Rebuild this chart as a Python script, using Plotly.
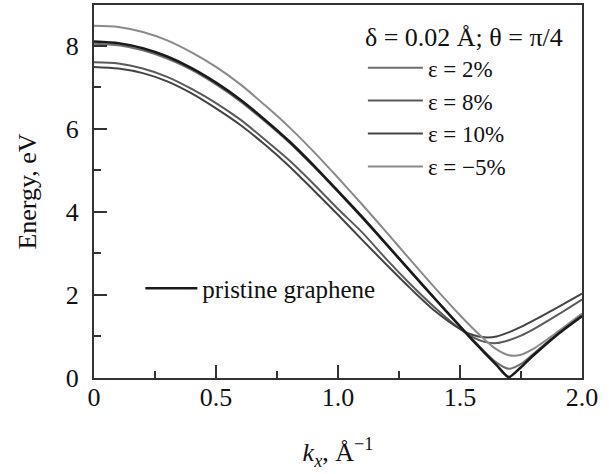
import plotly.graph_objects as go

# wave vector grid (Å^-1)
k = [0.0, 0.1, 0.2, 0.3, 0.4, 0.5, 0.6, 0.7, 0.8, 0.9, 1.0, 1.1, 1.2, 1.3, 1.4,
     1.5, 1.55, 1.6, 1.65, 1.7, 1.75, 1.8, 1.9, 2.0]

# energies (eV)
e_pristine = [8.10, 8.06, 7.94, 7.74, 7.46, 7.11, 6.70, 6.22, 5.70, 5.12, 4.50, 3.87,
              3.21, 2.55, 1.89, 1.24, 0.92, 0.61, 0.31, 0.02, 0.26, 0.54, 1.05, 1.49]
e_eps2 = [8.05, 8.01, 7.89, 7.69, 7.42, 7.07, 6.66, 6.18, 5.67, 5.09, 4.48, 3.85,
          3.20, 2.54, 1.89, 1.25, 0.94, 0.64, 0.37, 0.22, 0.34, 0.58, 1.07, 1.51]
e_eps8 = [7.60, 7.57, 7.45, 7.25, 6.96, 6.62, 6.22, 5.74, 5.24, 4.67, 4.07, 3.50,
          2.85, 2.24, 1.68, 1.18, 0.99, 0.87, 0.84, 0.91, 1.02, 1.17, 1.52, 1.89]
e_eps10 = [7.49, 7.45, 7.34, 7.14, 6.85, 6.49, 6.09, 5.62, 5.10, 4.52, 3.93, 3.32,
           2.72, 2.14, 1.60, 1.18, 1.04, 0.98, 1.00, 1.10, 1.23, 1.38, 1.70, 2.03]
e_epsm5 = [8.48, 8.45, 8.33, 8.13, 7.84, 7.49, 7.07, 6.57, 6.04, 5.45, 4.82, 4.17,
           3.50, 2.82, 2.15, 1.51, 1.21, 0.93, 0.69, 0.55, 0.56, 0.70, 1.11, 1.55]

series = [
    ("ε = 2%", e_eps2, "#6e6e6e"),
    ("ε = 8%", e_eps8, "#5a5a5a"),
    ("ε = 10%", e_eps10, "#444444"),
    ("ε = −5%", e_epsm5, "#8a8a8a"),
]

FONT = "Liberation Serif, Times New Roman, serif"

fig = go.Figure()
for name, vals, col in series:
    fig.add_trace(go.Scatter(x=k, y=vals, mode="lines", name=name,
                             line=dict(color=col, width=2, shape="spline", smoothing=0.8),
                             legend="legend"))
fig.add_trace(go.Scatter(x=k, y=e_pristine, mode="lines", name="pristine graphene",
                         line=dict(color="#1a1a1a", width=2.6, shape="spline", smoothing=0.6),
                         legend="legend2"))

axis_common = dict(showgrid=False, zeroline=False, showline=True, mirror=True,
                   linecolor="#333333", linewidth=2, ticks="inside", tickcolor="#333333",
                   tickwidth=1.5, ticklen=13,
                   tickfont=dict(family=FONT, size=26, color="#111111"))

fig.update_layout(
    width=609, height=474,
    margin=dict(l=94, r=27, t=3, b=96),
    paper_bgcolor="white", plot_bgcolor="white",
    font=dict(family=FONT, size=25, color="#111111"),
    xaxis=dict(range=[0, 2.0], tickvals=[0, 0.5, 1.0, 1.5, 2.0],
               ticktext=["0", "0.5", "1.0", "1.5", "2.0"],
               minor=dict(tickvals=[0.25, 0.75, 1.25, 1.75], ticks="inside", ticklen=7,
                          tickcolor="#333333", tickwidth=1.5),
               title=dict(text="<i>k<sub>x</sub></i>, Å<sup>−1</sup>",
                          font=dict(family=FONT, size=26), standoff=32),
               ticklabelstandoff=-5,
               **axis_common),
    yaxis=dict(range=[0, 8.98], tickvals=[0, 2, 4, 6, 8],
               minor=dict(tickvals=[1, 3, 5, 7], ticks="inside", ticklen=7,
                          tickcolor="#333333", tickwidth=1.5),
               title=dict(text="Energy, eV", font=dict(family=FONT, size=26), standoff=22),
               ticklabelstandoff=8,
               **axis_common),
    legend=dict(x=0.551, y=0.98, xanchor="left", yanchor="top",
                bgcolor="rgba(0,0,0,0)", borderwidth=0, itemwidth=55,
                font=dict(family=FONT, size=23),
                title=dict(text="δ = 0.02 Å; θ = π/4", side="top",
                           font=dict(family=FONT, size=26))),
    legend2=dict(x=0.095, y=0.24, xanchor="left", yanchor="middle",
                 bgcolor="rgba(0,0,0,0)", borderwidth=0, itemwidth=52,
                 font=dict(family=FONT, size=25)),
    showlegend=True,
)

fig.write_html("out.html")
